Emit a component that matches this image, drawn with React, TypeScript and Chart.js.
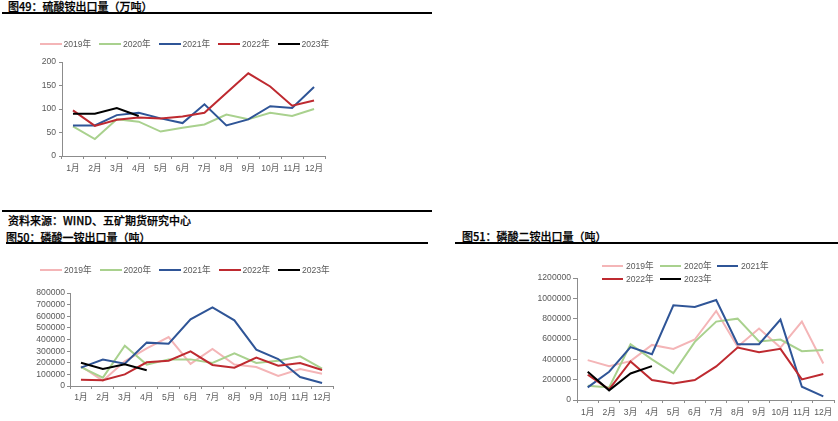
import React, { useEffect, useRef } from "react";
import { Chart, registerables } from "chart.js";

Chart.register(...registerables);

// ---------- shared categories ----------
const months = ["1月", "2月", "3月", "4月", "5月", "6月", "7月", "8月", "9月", "10月", "11月", "12月"];
const years = ["2019年", "2020年", "2021年", "2022年", "2023年"];
const seriesColors = ["#F4B5B7", "#A9D18E", "#2F5597", "#BE2A30", "#000000"];

// ---------- 图49 硫酸铵出口量（万吨） ----------
const sulfate2019: (number | null)[] = [];
const sulfate2020 = [63, 36, 78, 73, 52, 60, 67, 88, 78, 92, 85, 100];
const sulfate2021 = [65, 65, 87, 92, 80, 70, 110, 65, 78, 106, 102, 147];
const sulfate2022 = [97, 64, 77, 82, 80, 84, 92, 134, 176, 148, 107, 118];
const sulfate2023 = [90, 90, 102, 85];
const sulfateTicks = { max: 200, step: 50 };

// ---------- 图50 磷酸一铵出口量（吨） ----------
const map2019 = [170000, 46000, 212000, 324000, 421000, 190000, 318000, 184000, 163000, 86000, 146000, 106000];
const map2020 = [163000, 72000, 347000, 184000, 229000, 229000, 198000, 281000, 198000, 218000, 255000, 149000];
const map2021 = [158000, 227000, 192000, 373000, 364000, 573000, 677000, 565000, 313000, 232000, 77000, 26000];
const map2022 = [54000, 49000, 100000, 204000, 218000, 298000, 181000, 158000, 244000, 175000, 198000, 138000];
const map2023 = [200000, 146000, 186000, 135000];
const mapTicks = { max: 800000, step: 100000 };

// ---------- 图51 磷酸二铵出口量（吨） ----------
const dap2019 = [392000, 333000, 382000, 542000, 503000, 595000, 876000, 523000, 703000, 516000, 771000, 359000];
const dap2020 = [140000, 124000, 549000, 399000, 265000, 572000, 771000, 800000, 575000, 595000, 480000, 493000];
const dap2021 = [124000, 278000, 520000, 451000, 931000, 915000, 984000, 549000, 549000, 791000, 131000, 36000];
const dap2022 = [248000, 105000, 379000, 196000, 163000, 196000, 330000, 516000, 471000, 503000, 203000, 255000];
const dap2023 = [278000, 95000, 261000, 333000];
const dapTicks = { max: 1200000, step: 200000 };

const axisColor = "#8c8c8c";
const textColor = "#595959";
const tickFont = { family: "'Liberation Sans', 'Noto Sans CJK SC', sans-serif", size: 8.6 };
const cjkFont = "'Noto Sans CJK SC', 'Liberation Sans', sans-serif";

type ChartProps = {
  left: number;
  top: number;
  width: number;
  height: number;
  series: (number | null)[][];
  yMax: number;
  yStep: number;
  padding: { left: number; right: number; top: number; bottom: number };
  yWidth: number;
  xHeight: number;
  yTickLen: number;
  yTickPad: number;
  xTickLen: number;
  xTickPad: number;
};

function LineChart(p: ChartProps) {
  const ref = useRef<HTMLCanvasElement>(null);
  useEffect(() => {
    if (!ref.current) return;
    const chart = new Chart(ref.current, {
      type: "line",
      data: {
        labels: months,
        datasets: p.series.map((d, i) => ({
          label: years[i],
          data: d,
          borderColor: seriesColors[i],
          backgroundColor: seriesColors[i],
          borderWidth: 2,
          pointRadius: 0,
          pointHoverRadius: 0,
          tension: 0,
          fill: false,
          order: 5 - i,
        })),
      },
      options: {
        responsive: false,
        maintainAspectRatio: false,
        animation: false,
        layout: { padding: p.padding },
        plugins: {
          legend: { display: false },
          tooltip: { enabled: false },
          title: { display: false },
        },
        scales: {
          x: {
            offset: true,
            grid: {
              offset: true,
              drawOnChartArea: false,
              drawTicks: true,
              tickLength: p.xTickLen,
              color: axisColor,
            },
            border: { display: true, color: axisColor, width: 1 },
            ticks: {
              color: textColor,
              font: tickFont,
              padding: p.xTickPad,
              maxRotation: 0,
              minRotation: 0,
              autoSkip: false,
            },
            afterFit: (s: any) => {
              s.height = p.xHeight;
            },
          },
          y: {
            min: 0,
            max: p.yMax,
            grid: {
              drawOnChartArea: false,
              drawTicks: true,
              tickLength: p.yTickLen,
              color: axisColor,
            },
            border: { display: true, color: axisColor, width: 1 },
            ticks: {
              stepSize: p.yStep,
              color: textColor,
              font: tickFont,
              padding: p.yTickPad,
              autoSkip: false,
              callback: (v: any) => String(v),
            },
            afterFit: (s: any) => {
              s.width = p.yWidth;
            },
          },
        },
      },
    });
    return () => chart.destroy();
  }, []);
  return (
    <canvas
      ref={ref}
      width={p.width}
      height={p.height}
      style={{ position: "absolute", left: p.left, top: p.top, width: p.width, height: p.height }}
    />
  );
}

type LegendPos = { x: number; y: number };

function Legend({ positions, lineLen, textOffset }: { positions: LegendPos[]; lineLen: number; textOffset: number }) {
  return (
    <>
      {positions.map((pos, i) => (
        <React.Fragment key={i}>
          <div
            style={{
              position: "absolute",
              left: pos.x,
              top: pos.y - 1,
              width: lineLen,
              height: 2,
              background: seriesColors[i],
            }}
          />
          <div
            style={{
              position: "absolute",
              left: pos.x + textOffset,
              top: pos.y - 6,
              height: 12,
              lineHeight: "12px",
              fontSize: 8.6,
              fontFamily: "'Liberation Sans', 'Noto Sans CJK SC', sans-serif",
              color: textColor,
              whiteSpace: "nowrap",
            }}
          >
            {years[i]}
          </div>
        </React.Fragment>
      ))}
    </>
  );
}

function TextLine({ left, top, text }: { left: number; top: number; text: string }) {
  return (
    <div
      style={{
        position: "absolute",
        left,
        top,
        height: 12,
        lineHeight: "12px",
        fontSize: 11,
        fontWeight: 500,
        fontFamily: cjkFont,
        color: "#000",
        whiteSpace: "nowrap",
        WebkitTextStroke: "0.25px #000",
      }}
    >
      {text}
    </div>
  );
}

function Rule({ left, top, width }: { left: number; top: number; width: number }) {
  return <div style={{ position: "absolute", left, top, width, height: 2, background: "#000" }} />;
}

export default function App() {
  const pitch = 59.5;
  const legend1 = [0, 1, 2, 3, 4].map((i) => ({ x: 39.5 + i * pitch, y: 44 }));
  const legend2 = [0, 1, 2, 3, 4].map((i) => ({ x: 40 + i * pitch, y: 269.5 }));
  const legend3 = [
    { x: 602, y: 265.7 },
    { x: 660, y: 265.7 },
    { x: 717, y: 265.7 },
    { x: 602, y: 279 },
    { x: 660, y: 279 },
  ];
  return (
    <div
      style={{
        position: "fixed",
        left: 0,
        top: 0,
        width: 838,
        height: 421,
        background: "#fff",
        overflow: "hidden",
      }}
    >
      {/* 图49 */}
      <TextLine left={8} top={0} text="图49：硫酸铵出口量（万吨）" />
      <Rule left={2} top={12} width={430} />
      <LineChart
        left={0}
        top={30}
        width={340}
        height={160}
        series={[sulfate2019, sulfate2020, sulfate2021, sulfate2022, sulfate2023]}
        yMax={sulfateTicks.max}
        yStep={sulfateTicks.step}
        padding={{ left: 0, right: 15, top: 32, bottom: 10 }}
        yWidth={62}
        xHeight={24}
        yTickLen={3}
        yTickPad={3}
        xTickLen={3}
        xTickPad={4}
      />
      <Legend positions={legend1} lineLen={22} textOffset={24} />

      {/* source + 图50 */}
      <Rule left={2} top={210} width={430} />
      <TextLine left={8} top={214} text="资料来源：WIND、五矿期货研究中心" />
      <TextLine left={6} top={230.5} text="图50：磷酸一铵出口量（吨）" />
      <Rule left={6} top={242} width={422} />
      <LineChart
        left={0}
        top={250}
        width={345}
        height={170}
        series={[map2019, map2020, map2021, map2022, map2023]}
        yMax={mapTicks.max}
        yStep={mapTicks.step}
        padding={{ left: 0, right: 12, top: 43, bottom: 10 }}
        yWidth={70}
        xHeight={24}
        yTickLen={3}
        yTickPad={2}
        xTickLen={3}
        xTickPad={3}
      />
      <Legend positions={legend2} lineLen={22} textOffset={24} />

      {/* 图51 */}
      <TextLine left={462} top={230} text="图51：磷酸二铵出口量（吨）" />
      <Rule left={455} top={242} width={383} />
      <LineChart
        left={455}
        top={245}
        width={383}
        height={176}
        series={[dap2019, dap2020, dap2021, dap2022, dap2023]}
        yMax={dapTicks.max}
        yStep={dapTicks.step}
        padding={{ left: 0, right: 4, top: 33, bottom: 0 }}
        yWidth={122}
        xHeight={21}
        yTickLen={4}
        yTickPad={2}
        xTickLen={3}
        xTickPad={4}
      />
      <Legend positions={legend3} lineLen={21} textOffset={24} />
    </div>
  );
}
